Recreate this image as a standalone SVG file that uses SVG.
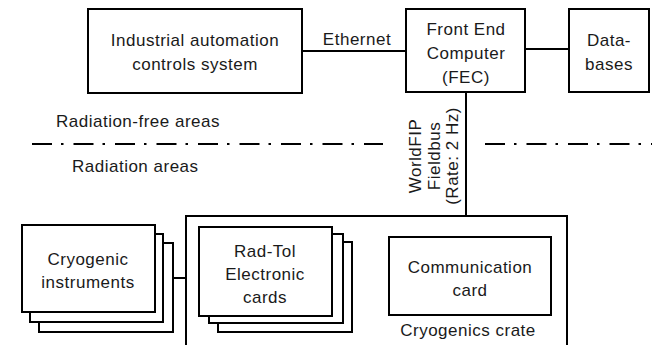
<svg xmlns="http://www.w3.org/2000/svg" width="652" height="345" viewBox="0 0 652 345">
<style>
.box{fill:#fff;stroke:#000;stroke-width:2}
.ln{fill:none;stroke:#000;stroke-width:2}
.dd{fill:none;stroke:#000;stroke-width:2.2;stroke-dasharray:20 9 2.5 10}
text{font-family:"Liberation Sans",Arial,sans-serif;font-size:17px;letter-spacing:0.5px;fill:#1a1a1a}
.c{text-anchor:middle}
</style>
<rect width="652" height="345" fill="#fff"/>
<g id="connectors">
<line class="ln" x1="302" y1="51" x2="406" y2="51"/>
<line class="ln" x1="525" y1="49" x2="569" y2="49"/>
<line class="ln" x1="466" y1="92" x2="466" y2="237"/>
<line class="ln" x1="173" y1="278" x2="186" y2="278"/>
<line class="ln" x1="332" y1="276" x2="389" y2="276"/>
<text class="c" x="357" y="45">Ethernet</text>
<g transform="translate(421,156) rotate(-90)"><text class="c" x="0" y="0">WorldFIP</text></g>
<g transform="translate(440,156) rotate(-90)"><text class="c" x="0" y="0">Fieldbus</text></g>
<g transform="translate(458,156) rotate(-90)"><text class="c" x="0" y="0">(Rate: 2 Hz)</text></g>
</g>
<g id="boundary">
<line class="dd" x1="32" y1="144" x2="383" y2="144"/>
<line class="dd" x1="485" y1="144" x2="652" y2="144"/>
<text x="56" y="127">Radiation-free areas</text>
<text x="72" y="172">Radiation areas</text>
</g>
<g id="industrial">
<rect class="box" x="88" y="9" width="214" height="84"/>
<text class="c" x="195" y="46">Industrial automation</text>
<text class="c" x="195" y="70">controls system</text>
</g>
<g id="fec">
<rect class="box" x="406" y="9" width="119" height="83"/>
<text class="c" x="466" y="35">Front End</text>
<text class="c" x="466" y="59">Computer</text>
<text class="c" x="466" y="83">(FEC)</text>
</g>
<g id="databases">
<rect class="box" x="569" y="9" width="80" height="83"/>
<text class="c" x="609" y="46">Data-</text>
<text class="c" x="609" y="70">bases</text>
</g>
<g id="crate">
<rect class="box" x="186" y="216" width="381" height="140"/>
<text class="c" x="468" y="336">Cryogenics crate</text>
</g>
<g id="instruments">
<rect class="box" x="39" y="243" width="134" height="89"/>
<rect class="box" x="30" y="234" width="133" height="88"/>
<rect class="box" x="22" y="225" width="133" height="87"/>
<text class="c" x="88" y="265">Cryogenic</text>
<text class="c" x="88" y="288">instruments</text>
</g>
<g id="radtol">
<rect class="box" x="218" y="242" width="134" height="90"/>
<rect class="box" x="209" y="234" width="134" height="89"/>
<rect class="box" x="199" y="227" width="133" height="89"/>
<text class="c" x="265" y="257">Rad-Tol</text>
<text class="c" x="265" y="280">Electronic</text>
<text class="c" x="265" y="303">cards</text>
</g>
<g id="comm">
<rect class="box" x="389" y="237" width="162" height="78"/>
<text class="c" x="470" y="273">Communication</text>
<text class="c" x="470" y="296">card</text>
</g>
</svg>
